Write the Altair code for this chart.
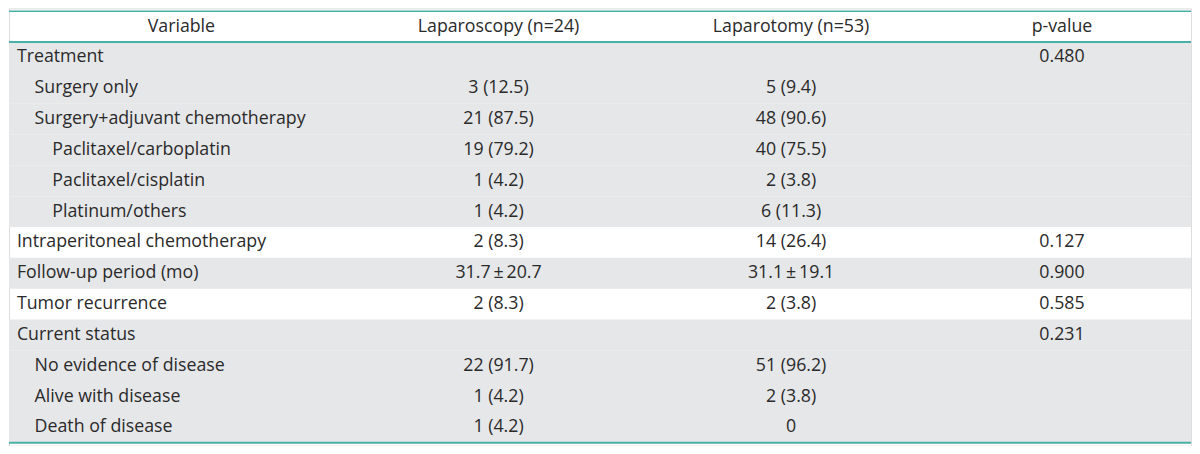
import altair as alt
import pandas as pd

headers = ["Variable", "Laparoscopy (n=24)", "Laparotomy (n=53)", "p-value"]
variables = ["Treatment", "Surgery only", "Surgery+adjuvant chemotherapy",
             "Paclitaxel/carboplatin", "Paclitaxel/cisplatin", "Platinum/others",
             "Intraperitoneal chemotherapy", "Follow-up period (mo)", "Tumor recurrence",
             "Current status", "No evidence of disease", "Alive with disease", "Death of disease"]
levels = [0, 1, 1, 2, 2, 2, 0, 0, 0, 0, 1, 1, 1]
laparoscopy = ["", "3 (12.5)", "21 (87.5)", "19 (79.2)", "1 (4.2)", "1 (4.2)",
               "2 (8.3)", "31.7\u2009±\u200920.7", "2 (8.3)", "", "22 (91.7)", "1 (4.2)", "1 (4.2)"]
laparotomy = ["", "5 (9.4)", "48 (90.6)", "40 (75.5)", "2 (3.8)", "6 (11.3)",
              "14 (26.4)", "31.1\u2009±\u200919.1", "2 (3.8)", "", "51 (96.2)", "2 (3.8)", "0"]
p_values = ["0.480", "", "", "", "", "", "0.127", "0.900", "0.585", "0.231", "", "", ""]
shaded = [1, 1, 1, 1, 1, 1, 0, 1, 0, 1, 1, 1, 1]

# layout (reference pixel units)
REF_W, REF_H, ROW_H, TOP = 1200, 454, 32.0, 3.0
col_centers = [175, 497, 794, 1069]
indent_px = [8, 26, 44]
W, H = 1184, 438
FONT = "Open Sans"
FS = 17.8
TXT = "#2a2a2a"
TEAL = "#4aafa4"
GRAY = "#e6e7e8"

n = len(variables)
rows = pd.DataFrame({
    "row": list(range(1, n + 1)),
    "variable": variables,
    "xind": [indent_px[l] for l in levels],
    "lap": laparoscopy,
    "lapt": laparotomy,
    "p": p_values,
    "shade": shaded,
})
hdr = pd.DataFrame({"label": headers, "xc": col_centers, "row": [0] * 4})
lines = pd.DataFrame({"row": [0, 1, n + 1], "w": [1.5, 2.0, 2.0]})

xs = alt.Scale(domain=[0, REF_W], nice=False, zero=False)
ys = alt.Scale(domain=[-TOP / ROW_H, (REF_H - TOP) / ROW_H],
               reverse=True, nice=False, zero=False)
X = lambda f: alt.X(f, type="quantitative", scale=xs, axis=None)
Y = lambda f: alt.Y(f, type="quantitative", scale=ys, axis=None)

base = alt.Chart(rows)

bg = base.transform_filter("datum.shade == 1").transform_calculate(
    y2="datum.row + 1", x0="0", x1=str(REF_W)
).mark_rect(color=GRAY).encode(
    x=X("x0"), x2="x1:Q", y=Y("row"), y2="y2:Q"
)

def text_layer(field, xfield=None, xc=None, align="center"):
    ch = base.transform_calculate(yc="datum.row + 0.5")
    if xc is not None:
        ch = ch.transform_calculate(xc=str(xc))
        xf = "xc"
    else:
        xf = xfield
    return ch.mark_text(align=align, baseline="middle", font=FONT, fontSize=FS,
                        color=TXT).encode(x=X(xf), y=Y("yc"), text=f"{field}:N")

t_var = text_layer("variable", xfield="xind", align="left")
t_lap = text_layer("lap", xc=col_centers[1])
t_lapt = text_layer("lapt", xc=col_centers[2])
t_p = text_layer("p", xc=col_centers[3])

t_hdr = alt.Chart(hdr).transform_calculate(yc="datum.row + 0.5").mark_text(
    align="center", baseline="middle", font=FONT, fontSize=FS, color=TXT
).encode(x=X("xc"), y=Y("yc"), text="label:N")

rl = alt.Chart(lines).transform_calculate(x0="0", x1=str(REF_W)).mark_rule(
    color=TEAL
).encode(x=X("x0"), x2="x1:Q", y=Y("row"),
         strokeWidth=alt.StrokeWidth("w:Q", scale=None, legend=None))

chart = alt.layer(bg, rl, t_hdr, t_var, t_lap, t_lapt, t_p).properties(
    width=W, height=H, padding=0
).configure_view(stroke=None).configure(background="white")

chart.save("out.html", embed_options={"renderer": "svg", "actions": False})
